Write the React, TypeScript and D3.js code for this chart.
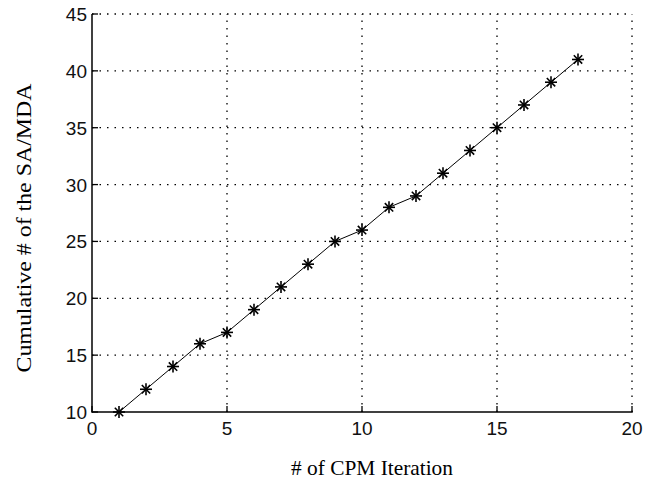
import React from "react";
import * as d3 from "d3";

const iterations = [1, 2, 3, 4, 5, 6, 7, 8, 9, 10, 11, 12, 13, 14, 15, 16, 17, 18];
const cumulative = [10, 12, 14, 16, 17, 19, 21, 23, 25, 26, 28, 29, 31, 33, 35, 37, 39, 41];
const xTicks = [0, 5, 10, 15, 20];
const yTicks = [10, 15, 20, 25, 30, 35, 40, 45];

export default function App() {
  const W = 647, H = 484;
  const x = d3.scaleLinear().domain([0, 20]).range([92, 632]);
  const y = d3.scaleLinear().domain([10, 45]).range([412, 14]);
  const line = d3.line<number>().x((_, i) => x(iterations[i])).y((d) => y(d));
  const pts = iterations.map((it, i) => [x(it), y(cumulative[i])]);
  const r = 6;
  const tickFont = "Liberation Sans, Arial, sans-serif";
  const labelFont = "Liberation Serif, Times New Roman, serif";
  return (
    <svg width={W} height={H} style={{ position: "absolute", left: 0, top: 0, background: "#fff" }}>
      <rect width={W} height={H} fill="#fff" />
      {/* grid */}
      {xTicks.slice(1).map((t) => (
        <line key={"gx" + t} x1={x(t)} x2={x(t)} y1={y(10)} y2={y(45)} stroke="#000" strokeWidth={1.3} strokeDasharray="1.5,6" />
      ))}
      {yTicks.slice(1).map((t) => (
        <line key={"gy" + t} x1={x(0)} x2={x(20)} y1={y(t)} y2={y(t)} stroke="#000" strokeWidth={1.3} strokeDasharray="1.5,6" />
      ))}
      {/* axes */}
      <line x1={x(0)} x2={x(20) + 0.75} y1={y(10)} y2={y(10)} stroke="#000" strokeWidth={1.5} />
      <line x1={x(0)} x2={x(0)} y1={y(10) + 0.75} y2={y(45)} stroke="#000" strokeWidth={1.5} />
      {xTicks.map((t) => (
        <g key={"xt" + t}>
          <line x1={x(t)} x2={x(t)} y1={y(10)} y2={y(10) - 6} stroke="#000" strokeWidth={1.3} />
          <text x={x(t)} y={435} textAnchor="middle" fontFamily={tickFont} fontSize={19} fill="#111">{t}</text>
        </g>
      ))}
      {yTicks.map((t) => (
        <g key={"yt" + t}>
          <line x1={x(0)} x2={x(0) + 6} y1={y(t)} y2={y(t)} stroke="#000" strokeWidth={1.3} />
          <text x={x(0) - 5} y={y(t) + 7} textAnchor="end" fontFamily={tickFont} fontSize={19} fill="#111">{t}</text>
        </g>
      ))}
      {/* line */}
      <path d={line(cumulative) || ""} fill="none" stroke="#000" strokeWidth={1} />
      {pts.map(([px, py], i) => (
        <g key={"m" + i} stroke="#000" strokeWidth={1.6}>
          <line x1={px - r} x2={px + r} y1={py} y2={py} />
          <line x1={px} x2={px} y1={py - r} y2={py + r} />
          <line x1={px - r * 0.7} x2={px + r * 0.7} y1={py - r * 0.7} y2={py + r * 0.7} />
          <line x1={px - r * 0.7} x2={px + r * 0.7} y1={py + r * 0.7} y2={py - r * 0.7} />
        </g>
      ))}
      <text x={372} y={475} textAnchor="middle" fontFamily={labelFont} fontSize={22} textLength={162} lengthAdjust="spacingAndGlyphs" fill="#000"># of CPM Iteration</text>
      <text transform={`translate(31,228) rotate(-90)`} textAnchor="middle" fontFamily={labelFont} fontSize={22} textLength={289} lengthAdjust="spacingAndGlyphs" fill="#000">Cumulative # of the SA/MDA</text>
    </svg>
  );
}
